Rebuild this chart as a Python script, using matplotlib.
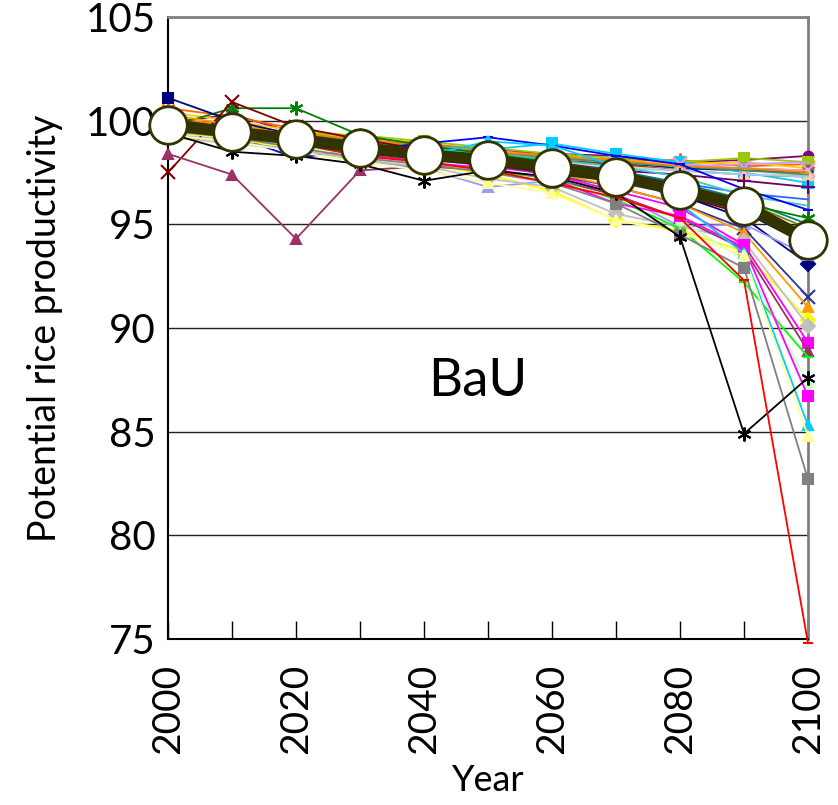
import numpy as np
import matplotlib.pyplot as plt

plt.rcParams['font.family'] = ['Lato', 'DejaVu Sans']

years = [2000, 2010, 2020, 2030, 2040, 2050, 2060, 2070, 2080, 2090, 2100]

# (colour, marker, values) for each region
regions = [
    ('#800080', 'o', [99.9, 100.3, 99.4, 99.1, 98.8, 98.6, 98.4, 98.3, 98.0, 98.1, 98.3]),
    ('#FF6600', (6, 2, 0), [100.6, 100.2, 99.6, 99.2, 98.9, 98.6, 98.3, 98.1, 98.1, 97.8, 97.9]),
    ('#FFCC00', 's', [100.4, 100.0, 99.5, 99.1, 98.8, 98.5, 98.3, 98.1, 97.9, 98.0, 97.7]),
    ('#99CC00', 's', [99.9, 99.6, 99.4, 99.3, 99.0, 98.7, 98.4, 98.2, 98.0, 98.2, 98.0]),
    ('#666699', 'o', [99.6, 99.4, 99.1, 98.9, 98.6, 98.3, 98.1, 97.9, 97.8, 97.7, 97.6]),
    ('#003366', '_', [99.7, 99.5, 99.3, 99.0, 98.8, 98.5, 98.2, 98.0, 97.7, 97.6, 97.5]),
    ('#00CCFF', 's', [99.6, 99.4, 99.2, 99.0, 98.8, 98.6, 98.9, 98.4, 98.0, 97.5, 97.0]),
    ('#993300', 'none', [99.8, 99.5, 99.2, 98.9, 98.6, 98.4, 98.1, 97.9, 97.6, 97.4, 97.3]),
    ('#FF99CC', 'x', [99.5, 99.3, 99.0, 98.8, 98.5, 98.6, 98.2, 98.0, 97.9, 97.7, 97.6]),
    ('#FFCC99', '^', [99.4, 99.2, 99.0, 98.7, 98.4, 98.3, 98.0, 97.8, 97.6, 97.4, 97.4]),
    ('#99CCFF', 'none', [99.3, 99.1, 98.9, 98.6, 98.3, 98.1, 97.9, 97.7, 97.6, 97.4, 97.3]),
    ('#CC99FF', 'none', [99.6, 99.3, 99.1, 98.8, 98.6, 98.4, 98.2, 98.0, 97.8, 97.9, 98.0]),
    ('#339966', 'none', [99.8, 99.6, 99.3, 99.0, 98.7, 98.5, 98.2, 98.0, 97.8, 97.6, 97.4]),
    ('#FF8000', 'none', [100.1, 99.8, 99.4, 99.1, 98.8, 98.5, 98.3, 98.1, 97.8, 97.7, 97.5]),
    ('#3366FF', 'none', [99.7, 99.5, 99.2, 98.9, 98.5, 98.3, 98.0, 97.5, 97.0, 96.5, 96.2]),
    ('#660066', '+', [99.7, 99.5, 99.2, 98.8, 98.5, 98.3, 98.0, 97.6, 97.4, 97.1, 96.8]),
    ('#33CCCC', 'none', [99.9, 99.6, 99.3, 99.0, 98.7, 98.4, 98.1, 97.8, 97.3, 96.4, 95.9]),
    ('#008080', '+', [99.8, 99.5, 99.2, 98.9, 98.5, 98.2, 97.9, 97.6, 97.0, 96.2, 95.0]),
    ('#808000', 'none', [99.9, 99.6, 99.3, 98.9, 98.6, 98.3, 97.9, 97.5, 96.9, 96.1, 94.8]),
    ('#0000FF', '_', [99.6, 99.3, 98.2, 98.6, 98.9, 99.2, 98.8, 98.3, 97.9, 96.7, 95.7]),
    ('#008000', (6, 2, 0), [99.7, 100.6, 100.6, 99.3, 98.8, 98.4, 98.0, 97.5, 96.8, 96.0, 95.3]),
    ('#800000', 'x', [97.5, 100.9, 99.7, 99.1, 98.6, 98.2, 97.8, 97.2, 96.4, 95.5, 94.4]),
    ('#000080', 's', [101.1, 100.0, 99.3, 98.9, 98.5, 98.2, 97.8, 97.3, 96.5, 95.6, 94.0]),
    ('#000080', 'D', [99.9, 99.6, 99.2, 98.8, 98.5, 98.2, 97.8, 97.2, 96.4, 95.3, 93.1]),
    ('#9999FF', '^', [99.3, 99.0, 98.6, 98.1, 97.7, 96.8, 97.1, 96.5, 94.9, 95.0, 93.5]),
    ('#333399', 'x', [99.9, 99.5, 99.1, 98.6, 98.2, 97.9, 97.4, 96.8, 96.0, 94.8, 91.5]),
    ('#FF9900', '^', [100.3, 99.8, 99.3, 98.8, 98.4, 98.0, 97.5, 96.8, 96.0, 94.6, 91.0]),
    ('#FFFF00', 'D', [99.5, 99.1, 98.7, 98.2, 97.9, 97.4, 96.6, 95.2, 94.7, 93.7, 90.4]),
    ('#C0C0C0', 'D', [99.2, 98.9, 98.6, 98.1, 97.8, 97.2, 96.8, 95.5, 94.9, 94.2, 90.1]),
    ('#FF00FF', 's', [99.8, 99.5, 99.1, 98.6, 98.2, 97.8, 97.4, 96.6, 95.8, 94.0, 89.3]),
    ('#993366', '^', [98.4, 97.4, 94.3, 97.6, 97.8, 97.6, 97.2, 96.4, 95.3, 93.8, 88.9]),
    ('#00FF00', '_', [99.6, 99.2, 98.8, 98.4, 98.0, 97.6, 97.2, 96.2, 94.8, 92.2, 88.6]),
    ('#CCFFCC', 'o', [99.5, 99.2, 98.8, 98.3, 98.0, 97.5, 97.1, 96.3, 95.2, 93.3, 87.3]),
    ('#FF00FF', 's', [99.7, 99.4, 99.0, 98.4, 98.0, 97.7, 97.2, 96.0, 95.4, 93.9, 86.7]),
    ('#00CCFF', '^', [99.6, 99.3, 99.0, 98.6, 98.3, 99.0, 98.8, 97.8, 96.0, 93.6, 85.3]),
    ('#FFFF99', '^', [99.3, 99.0, 98.5, 98.0, 97.6, 97.0, 96.5, 95.2, 94.6, 93.5, 84.8]),
    ('#808080', 's', [99.5, 99.2, 98.7, 98.2, 97.9, 97.5, 97.0, 96.0, 94.5, 92.9, 82.7]),
    ('#000000', (6, 2, 0), [99.4, 98.5, 98.3, 97.9, 97.1, 97.6, 97.3, 96.5, 94.4, 84.9, 87.6]),
    ('#FF0000', '_', [99.6, 99.3, 98.9, 98.3, 98.0, 97.6, 97.0, 96.3, 95.3, 92.3, 74.8]),
]

average = [99.8, 99.45, 99.1, 98.7, 98.35, 98.1, 97.7, 97.3, 96.65, 95.9, 94.25]

fig = plt.figure(figsize=(8.38, 8.05), dpi=100)
ax = fig.add_axes([0.2005, 0.2062, 0.7637, 0.7727])

for color, marker, vals in regions:
    # line-type markers (asterisk, x, +) need a bit more size to read
    size = 7 if marker in ('o', 's', 'D', '^', '_', 'none') else 10
    ax.plot(years, vals, color=color, lw=1.3, marker=marker, ms=size,
            mew=1.5, clip_on=False, zorder=3)

ax.plot(years, average, color='#333300', lw=8.5, marker='o', ms=27,
        mfc='white', mec='#333300', mew=2, clip_on=False, zorder=5)

ax.set_xlim(2000, 2100)
ax.set_ylim(75, 105)
ax.set_yticks([75, 80, 85, 90, 95, 100, 105])
ax.set_xticks([2000, 2020, 2040, 2060, 2080, 2100])
ax.set_xticks(np.arange(2000, 2101, 10), minor=True)
ax.grid(axis='y', color='#222222', lw=1.0, zorder=1)

ax.tick_params(axis='y', length=0, labelsize=29, pad=9)
ax.tick_params(axis='x', which='both', direction='in', length=13, width=1,
               labelsize=28, labelrotation=90, pad=18)

for side in ['top', 'right']:
    ax.spines[side].set_color('#808080')
    ax.spines[side].set_linewidth(2)
for side in ['left', 'bottom']:
    ax.spines[side].set_color('black')
    ax.spines[side].set_linewidth(1.5)

ax.set_ylabel('Potential rice productivity', fontsize=27, labelpad=16)
ax.set_xlabel('Year', fontsize=26, labelpad=7)
ax.text(2048.4, 87.4, 'BaU', fontsize=38, ha='center', va='center')

fig.savefig('out.png', dpi=100)
